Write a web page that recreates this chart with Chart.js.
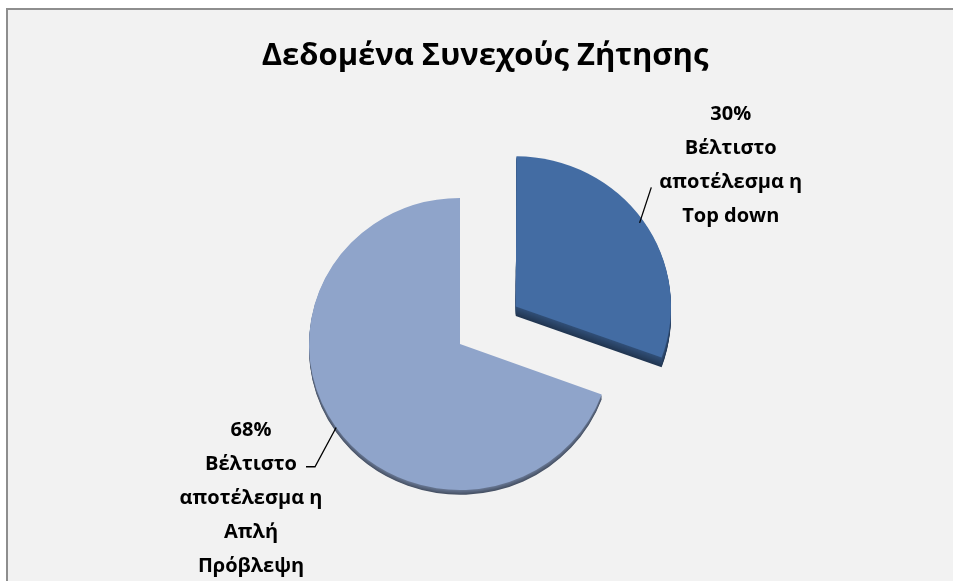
<!DOCTYPE html>
<html lang="el">
<head>
<meta charset="utf-8">
<title>Δεδομένα Συνεχούς Ζήτησης</title>
<script src="https://cdn.jsdelivr.net/npm/chart.js@4.4.1/dist/chart.umd.min.js"></script>
<style>
    html, body { margin: 0; padding: 0; background: #ffffff; overflow: hidden; }
    .frame {
        position: absolute; left: 6px; top: 8px;
        width: 970px; height: 600px;
        border: 2px solid #8e8e8e;
        background: #f2f2f2;
    }
    #demandChart { position: absolute; left: 0; top: 0; }
</style>
</head>
<body>
<div class="frame"></div>
<canvas id="demandChart" width="953" height="581"></canvas>
<script>
// Pie data: share of series where each method gave the best result
const chartTitle = 'Δεδομένα Συνεχούς Ζήτησης';
const categories = ['Βέλτιστο αποτέλεσμα η Top down', 'Βέλτιστο αποτέλεσμα η Απλή Πρόβλεψη'];
const shares = [30, 68];
const categoryLines = [
    ['Βέλτιστο', 'αποτέλεσμα η', 'Top down'],
    ['Βέλτιστο', 'αποτέλεσμα η', 'Απλή', 'Πρόβλεψη']
];
const sliceColors = ['#436ca3', '#8fa4ca'];

const FONT = "'Open Sans', 'Noto Sans', sans-serif";
const EXPLODE = 68;        // pixels the first slice is pulled out
const TILT = 0.967;        // slight vertical squash so the pie reads as tilted
const SIDE_DEPTH = [10, 5]; // thickness of each slice's side wall

function tiltY(chart, y) {
    const y0 = (chart.chartArea.top + chart.chartArea.bottom) / 2;
    return y0 + (y - y0) * TILT;
}

// Fake 3D: squash the pie and draw each slice lower and darker under its top face
const pieDepth = {
    id: 'pieDepth',
    beforeDatasetsDraw(chart) {
        const ctx = chart.ctx;
        const y0 = (chart.chartArea.top + chart.chartArea.bottom) / 2;
        ctx.save();
        ctx.translate(0, y0);
        ctx.scale(1, TILT);
        ctx.translate(0, -y0);

        chart.getDatasetMeta(0).data.forEach((arc, i) => {
            const depth = SIDE_DEPTH[i];
            for (let dy = depth; dy >= 1; dy--) {
                const shade = 0.5 + 0.25 * (depth - dy) / depth;
                ctx.save();
                ctx.translate(0, dy);
                ctx.filter = 'brightness(' + shade.toFixed(3) + ')';
                arc.draw(ctx);
                ctx.restore();
            }
        });
    },
    afterDatasetsDraw(chart) {
        chart.ctx.restore();
    }
};

// Title plus the percentage labels with their leader lines
const pieLabels = {
    id: 'pieLabels',
    afterDraw(chart) {
        const ctx = chart.ctx;
        const arcs = chart.getDatasetMeta(0).data;

        ctx.save();
        ctx.fillStyle = '#000';
        ctx.textAlign = 'center';
        ctx.textBaseline = 'alphabetic';
        ctx.font = 'bold 31px ' + FONT;
        ctx.fillText(chartTitle, 485, 65);

        ctx.font = 'bold 20px ' + FONT;
        ctx.textBaseline = 'middle';
        ctx.strokeStyle = '#000';
        ctx.lineWidth = 1.3;
        const lineH = 34;
        const gap = 36;
        const leaderRow = [2, 1];

        arcs.forEach((arc, i) => {
            const p = arc.getProps(['x', 'y', 'startAngle', 'endAngle', 'outerRadius'], true);
            const mid = (p.startAngle + p.endAngle) / 2;
            const cos = Math.cos(mid), sin = Math.sin(mid);
            // ArcElement shifts an exploded slice by offset / 4
            const shift = (arc.options.offset || 0) / 4;
            const cx = p.x + cos * shift;
            const cy = p.y + sin * shift;
            const rimX = cx + cos * p.outerRadius;
            const rimY = tiltY(chart, cy + sin * p.outerRadius);

            const lines = [shares[i] + '%'].concat(categoryLines[i]);
            const boxW = Math.max(...lines.map(t => ctx.measureText(t).width));
            const boxH = lines.length * lineH;
            // box sits outside the rim, its near corner facing the slice
            const lx = rimX + cos * gap + cos * boxW / 2 + 3;
            const ly = rimY + sin * gap + sin * boxH / 2 + 2;

            const top = ly - (lines.length - 1) * lineH / 2;
            lines.forEach((t, k) => ctx.fillText(t, lx, top + k * lineH));

            const row = leaderRow[i];
            const rowY = top + row * lineH;
            const halfW = ctx.measureText(lines[row]).width / 2;
            ctx.beginPath();
            ctx.moveTo(rimX, rimY);
            if (cos > 0) {
                ctx.lineTo(lx - halfW - 8, rowY + 5);
            } else {
                ctx.lineTo(lx + halfW + 18, rowY + 2);
                ctx.lineTo(lx + halfW + 9, rowY + 2);
            }
            ctx.stroke();
        });
        ctx.restore();
    }
};

new Chart(document.getElementById('demandChart'), {
    type: 'pie',
    data: {
        labels: categories,
        datasets: [{
            data: shares,
            backgroundColor: sliceColors,
            borderWidth: 0,
            offset: [EXPLODE * 4, 0]
        }]
    },
    options: {
        responsive: false,
        animation: false,
        events: [],
        radius: 151,
        layout: {
            padding: { left: 200, right: 233, top: 120, bottom: 13 }
        },
        plugins: {
            legend: { display: false },
            title: { display: false },
            tooltip: { enabled: false }
        }
    },
    plugins: [pieDepth, pieLabels]
});
</script>
</body>
</html>
